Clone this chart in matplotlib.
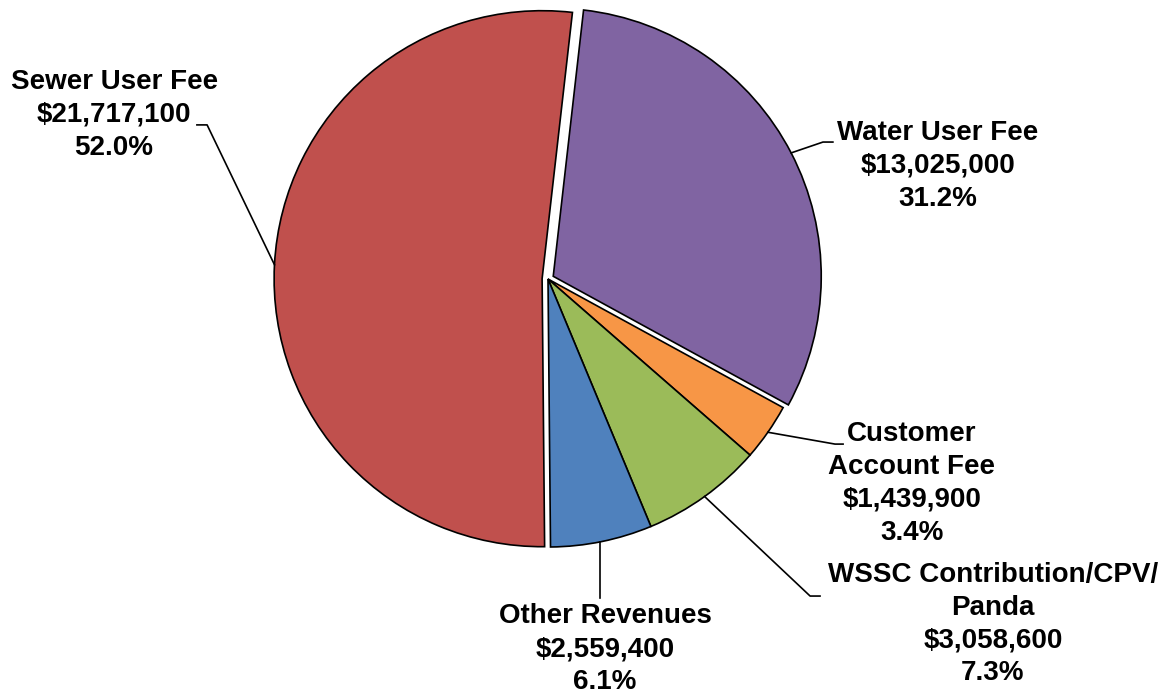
import numpy as np
import matplotlib
matplotlib.use("Agg")
import matplotlib.pyplot as plt

# data
labels = ["Water User Fee", "Customer\nAccount Fee", "WSSC Contribution/CPV/\nPanda",
          "Other Revenues", "Sewer User Fee"]
amounts = [13025000, 1439900, 3058600, 2559400, 21717100]
colors = ["#8064A2", "#F79646", "#9BBB59", "#4F81BD", "#C0504D"]
explode = [0.022, 0.0, 0.0, 0.0, 0.022]

# label layout (data units, pie radius = 1): elbow, line end, text centre
layout = [
    ((1.026, 0.511), (1.063, 0.511), (1.455, 0.422)),
    ((1.071, -0.616), (1.101, -0.616), (1.358, -0.763)),
    ((0.978, -1.183), (1.015, -1.183), (1.660, -1.287)),
    ((0.195, -1.190), (0.195, -1.190), (0.213, -1.381)),
    ((-1.272, 0.575), (-1.310, 0.575), (-1.619, 0.612)),
]

plt.rcParams["font.family"] = ["Liberation Sans", "DejaVu Sans"]

W, H = 1169, 693
fig = plt.figure(figsize=(W / 100, H / 100), dpi=100)
ax = fig.add_axes([0, 0, 1, 1])
R = 268.0
cx, cy = 548.0, 279.0

total = sum(amounts)
wedges, _ = ax.pie(amounts, colors=colors, explode=explode, startangle=83.5,
                   counterclock=False, radius=1.0, frame=True,
                   wedgeprops=dict(edgecolor="black", linewidth=1.2))
ax.set_xlim(-cx / R, (W - cx) / R)
ax.set_ylim(-(H - cy) / R, cy / R)
ax.set_aspect("auto")
ax.set_axis_off()

for i, (w, lab, amt, (elbow, end, tc)) in enumerate(zip(wedges, labels, amounts, layout)):
    mid = np.deg2rad((w.theta1 + w.theta2) / 2)
    x0 = w.center[0] + w.r * np.cos(mid)
    y0 = w.center[1] + w.r * np.sin(mid)
    if i == 3:  # straight drop for the bottom label
        x0 = elbow[0]
        y0 = -np.sqrt(1 - x0 ** 2)
    ax.plot([x0, elbow[0], end[0]], [y0, elbow[1], end[1]], color="black", lw=1.2)
    txt = f"{lab}\n${amt:,.0f}\n{amt / total * 100:.1f}%"
    ax.text(tc[0], tc[1], txt, ha="center", va="center", multialignment="center",
            fontsize=20, fontweight="bold", linespacing=1.34, color="black")

fig.savefig("out.png", dpi=100)
